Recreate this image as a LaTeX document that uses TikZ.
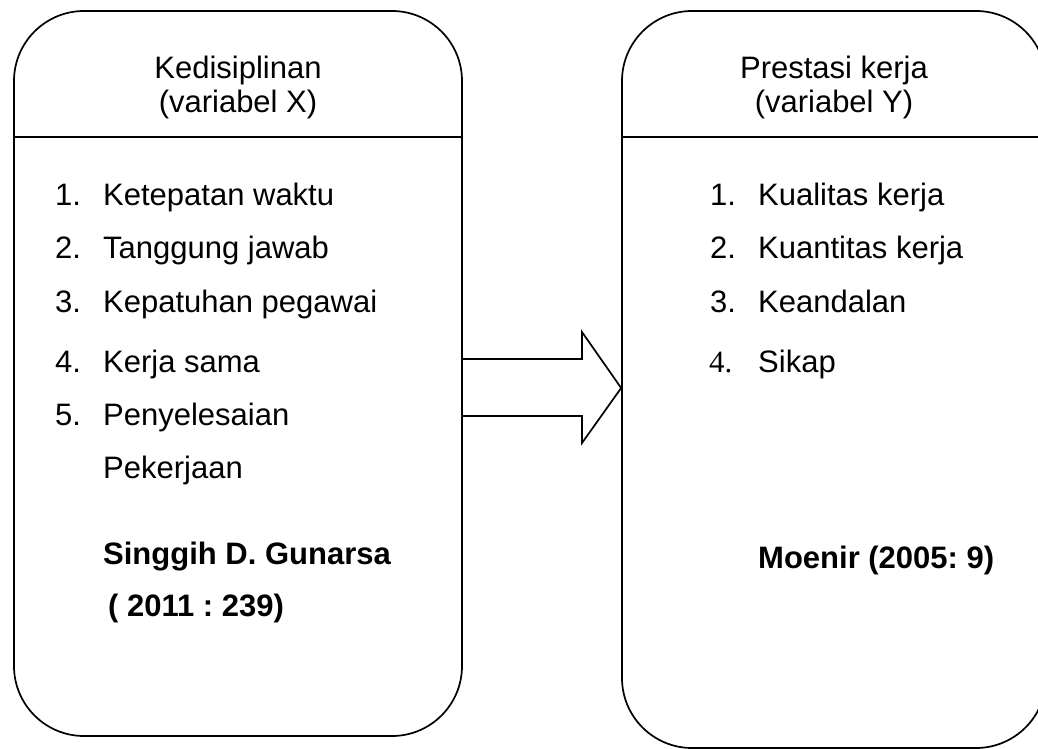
\documentclass[tikz,border=0pt]{standalone}
\usepackage{fontspec}
\setmainfont{Liberation Sans}
\newfontfamily\serifnum{Liberation Serif}
\usepackage{tikz}
\frenchspacing

\begin{document}
\begin{tikzpicture}[x=1pt,y=-1pt,
  varbox/.style={draw, line width=1.7, rounded corners=70, inner sep=0},
  txt/.style={anchor=base west, inner sep=0, font=\fontsize{31}{37}\selectfont},
  ttl/.style={anchor=base, inner sep=0, font=\fontsize{31}{37}\selectfont},
  bigarrow/.style={draw, line width=1.7, line join=miter}]

\useasboundingbox (0,0) rectangle (1038,749);

\node[varbox, minimum width=448, minimum height=725]
  (boxX) at (238,373.5) {};
\node[varbox, minimum width=424, minimum height=737]
  (boxY) at (834,379.5) {};

\draw[line width=1.7]
  (boxX.west |- 0,137) to (boxX.east |- 0,137);
\draw[line width=1.7]
  (boxY.west |- 0,137) to (boxY.east |- 0,137);

% judul
\node[ttl] (ttlX1) at (238,79) {Kedisiplinan};
\node[ttl] (ttlX2) at (238,113) {(variabel X)};
\node[ttl] (ttlY1) at (834,79) {Prestasi kerja};
\node[ttl] (ttlY2) at (834,113) {(variabel Y)};

% indikator X
\node[txt] (nX1) at (55,205) {1.};
\node[txt] (iX1) at (103,205) {Ketepatan waktu};
\node[txt] (nX2) at (55,258) {2.};
\node[txt] (iX2) at (103,258) {Tanggung jawab};
\node[txt] (nX3) at (55,312) {3.};
\node[txt] (iX3) at (103,312) {Kepatuhan pegawai};
\node[txt] (nX4) at (55,372) {4.};
\node[txt] (iX4) at (103,372) {Kerja sama};
\node[txt] (nX5) at (55,425) {5.};
\node[txt] (iX5) at (103,425) {Penyelesaian};
\node[txt] (iX6) at (103,478) {Pekerjaan};
\node[txt, font=\fontsize{31}{37}\selectfont\bfseries]
  (srcX1) at (103,564) {Singgih D. Gunarsa};
\node[txt, font=\fontsize{31}{37}\selectfont\bfseries]
  (srcX2) at (108,616) {( 2011 : 239)};

% indikator Y
\node[txt] (nY1) at (710,205) {1.};
\node[txt] (iY1) at (758,205) {Kualitas kerja};
\node[txt] (nY2) at (710,258) {2.};
\node[txt] (iY2) at (758,258) {Kuantitas kerja};
\node[txt] (nY3) at (710,312) {3.};
\node[txt] (iY3) at (758,312) {Keandalan};
\node[txt, font=\fontsize{31}{37}\selectfont\serifnum]
  (nY4) at (709,372) {4.};
\node[txt] (iY4) at (758,372) {Sikap};
\node[txt, font=\fontsize{31}{37}\selectfont\bfseries]
  (srcY) at (758,568) {Moenir (2005: 9)};

\coordinate (tip) at (boxY.west |- 0,388);
\draw[bigarrow]
  (boxX.east |- 0,359) -- (582,359) -- (582,332) -- (tip)
  -- (582,443) -- (582,416) -- (boxX.east |- 0,416);

\end{tikzpicture}
\end{document}
